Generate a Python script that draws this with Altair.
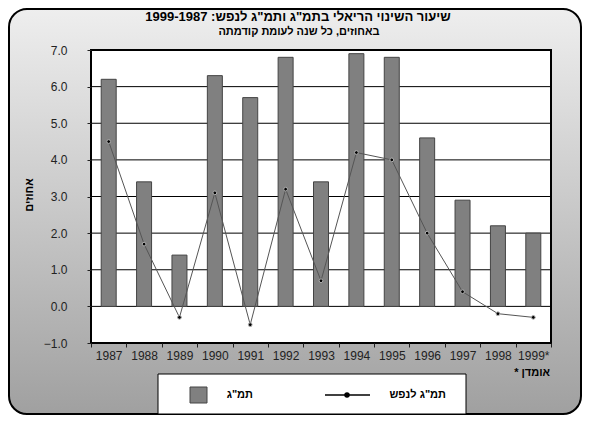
import altair as alt
import pandas as pd

FONT = "Liberation Sans"

years = ["1987", "1988", "1989", "1990", "1991", "1992", "1993",
         "1994", "1995", "1996", "1997", "1998", "1999*"]
gdp = [6.2, 3.4, 1.4, 6.3, 5.7, 6.8, 3.4, 6.9, 6.8, 4.6, 2.9, 2.2, 2.0]
gdp_pc = [4.5, 1.7, -0.3, 3.1, -0.5, 3.2, 0.7, 4.2, 4.0, 2.0, 0.4, -0.2, -0.3]
y_ticks = [-1, 0, 1, 2, 3, 4, 5, 6, 7]
grid_vals = [0, 1, 2, 3, 4, 5, 6]

title_text = 'שיעור השינוי הריאלי בתמ"ג ותמ"ג לנפש: 1999-1987'
subtitle_text = "באחוזים, כל שנה לעומת קודמתה"
ytitle_text = "אחוזים"
note_text = "* אומדן"
leg_bar = 'תמ"ג'
leg_line = 'תמ"ג לנפש'

df = pd.DataFrame({"year": years, "gdp": gdp, "gdp_pc": gdp_pc})
one = pd.DataFrame({"k": [0]})
gdf = pd.DataFrame({"g": grid_vals})

W, H = 460, 293
PL, PT, PR, PB = 83, 42, 31, 72

yscale = alt.Scale(domain=[-1, 7], nice=False, zero=False)
yaxis = alt.Axis(title=None, values=y_ticks, format=".1f", tickSize=4,
                 labelPadding=20, domain=False, grid=False, labelFont=FONT,
                 labelFontSize=12, labelColor="#222", tickColor="#222", zindex=1)
xaxis = alt.Axis(title=None, labelAngle=0, tickBand="extent", tickSize=4,
                 labelPadding=3, domain=False, grid=False, labelFont=FONT,
                 labelFontSize=12, labelColor="#222", tickColor="#222", zindex=1)
xenc = alt.X("year:N", sort=years, scale=alt.Scale(paddingInner=0, paddingOuter=0), axis=xaxis)

grad = alt.LinearGradient(gradient="linear", x1=0, x2=0, y1=0, y2=1,
                          stops=[alt.GradientStop(color="#eeeeee", offset=0),
                                 alt.GradientStop(color="#c8c8c8", offset=0.5),
                                 alt.GradientStop(color="#a0a0a0", offset=1)])

bg = alt.Chart(one).mark_rect(fill=grad, stroke="black", strokeWidth=2, cornerRadius=18).encode(
    x=alt.value(-PL + 1), x2=alt.value(W + PR - 1), y=alt.value(-PT + 1), y2=alt.value(H + PB - 1))

plotbg = alt.Chart(one).mark_rect(fill="white").encode(
    x=alt.value(0), x2=alt.value(W), y=alt.value(0), y2=alt.value(H))

grid = alt.Chart(gdf).mark_rule(color="black", strokeWidth=1).encode(
    y=alt.Y("g:Q", scale=yscale, axis=yaxis))

bars = alt.Chart(df).mark_bar(size=15, color="#808080", stroke="#444444", strokeWidth=1).encode(
    x=xenc, y=alt.Y("gdp:Q", scale=yscale, axis=yaxis))

line = alt.Chart(df).mark_line(color="#555555", strokeWidth=1).encode(
    x=xenc, y=alt.Y("gdp_pc:Q", scale=yscale, axis=yaxis))

pts = alt.Chart(df).mark_circle(size=14, color="black", stroke="#b0b0b0", strokeWidth=1, opacity=1).encode(
    x=xenc, y=alt.Y("gdp_pc:Q", scale=yscale, axis=yaxis))

frame = alt.Chart(one).mark_rect(fill="transparent", stroke="black", strokeWidth=2).encode(
    x=alt.value(0), x2=alt.value(W), y=alt.value(0), y2=alt.value(H))

def txt(s, x, y, size, bold=True, align="center", angle=0):
    return alt.Chart(one).mark_text(text=s, font=FONT, fontSize=size,
                                    fontWeight="bold" if bold else "normal",
                                    align=align, baseline="middle", color="black",
                                    angle=angle).encode(x=alt.value(x), y=alt.value(y))

title = txt(title_text, 207, -33, 13)
subtitle = txt(subtitle_text, 208, -18, 11)
ytitle = txt(ytitle_text, -61, 145, 11, angle=270)
note = txt(note_text, 459, 323, 11, align="right")

leg_box = alt.Chart(one).mark_rect(fill="white", stroke="black", strokeWidth=1).encode(
    x=alt.value(67), x2=alt.value(375), y=alt.value(324), y2=alt.value(364))
leg_sq = alt.Chart(one).mark_rect(fill="#808080", stroke="#444444", strokeWidth=1).encode(
    x=alt.value(99), x2=alt.value(116), y=alt.value(337), y2=alt.value(353))
leg_ln = alt.Chart(one).mark_rule(color="black", strokeWidth=1.5).encode(
    x=alt.value(234), x2=alt.value(279), y=alt.value(345))
leg_pt = alt.Chart(one).mark_circle(size=30, color="black", opacity=1).encode(
    x=alt.value(256), y=alt.value(345))
leg_t1 = txt(leg_bar, 162, 345, 11, align="right")
leg_t2 = txt(leg_line, 355, 345, 11, align="right")

chart = alt.layer(bg, plotbg, grid, bars, line, pts, frame, title, subtitle, ytitle, note,
                  leg_box, leg_sq, leg_ln, leg_pt, leg_t1, leg_t2).properties(
    width=W, height=H,
    autosize=alt.AutoSizeParams(type="none"),
    padding={"left": PL, "top": PT, "right": PR, "bottom": PB},
).configure(font=FONT).configure_view(strokeWidth=0)

chart.save("out.html", embed_options={"renderer": "svg", "actions": False})
